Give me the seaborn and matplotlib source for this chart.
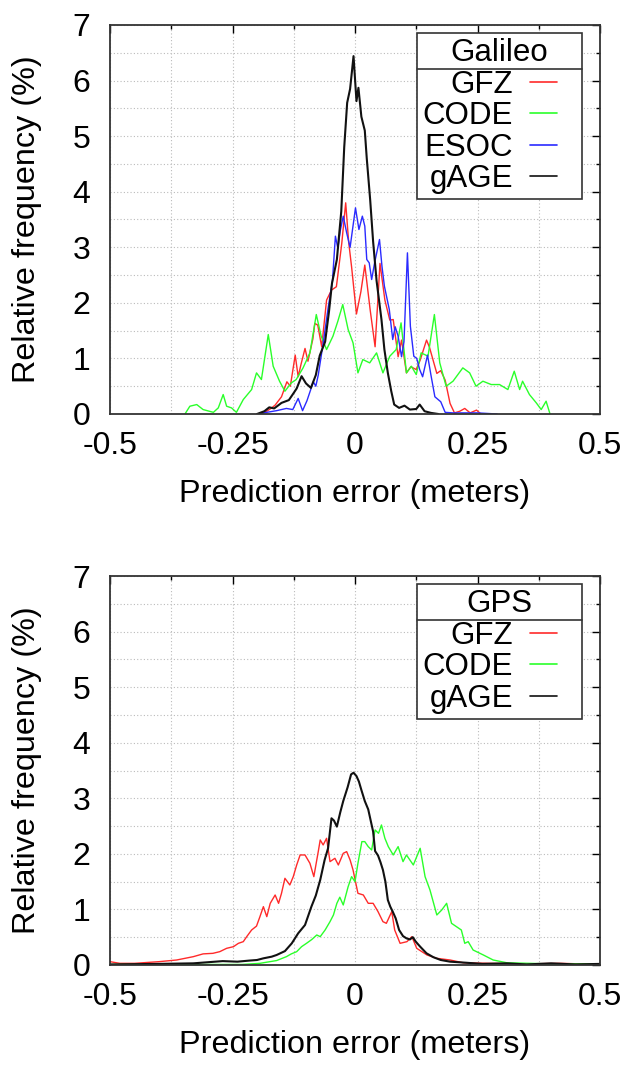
import numpy as np
import pandas as pd
import seaborn as sns
import matplotlib
matplotlib.use("Agg")
import matplotlib.pyplot as plt
from matplotlib.ticker import MultipleLocator
from matplotlib.lines import Line2D
from matplotlib.legend_handler import HandlerLine2D

# ---------------- Galileo data ----------------
gal_gfz_x = [-0.194, -0.180, -0.170, -0.163, -0.150, -0.139, -0.132, -0.122, -0.116, -0.110,
             -0.102, -0.096, -0.086, -0.082, -0.076, -0.068, -0.058, -0.048, -0.038, -0.027,
             -0.019, -0.013, -0.007, 0.003, 0.012, 0.020, 0.031, 0.041, 0.051, 0.061,
             0.071, 0.078, 0.088, 0.095, 0.105, 0.114, 0.125, 0.133, 0.146, 0.152,
             0.167, 0.175, 0.184, 0.194, 0.203, 0.214, 0.224, 0.235, 0.248, 0.257]
gal_gfz_y = [0.0, 0.05, 0.11, 0.16, 0.31, 0.58, 0.50, 1.06, 0.67, 0.90,
             1.18, 0.95, 1.35, 1.63, 1.60, 1.21, 2.05, 2.23, 2.29, 3.07,
             3.80, 3.10, 2.65, 1.80, 2.20, 2.68, 1.87, 1.21, 2.71, 2.05,
             1.69, 1.70, 1.03, 1.33, 0.74, 0.85, 0.80, 0.97, 1.33, 1.20,
             0.73, 0.78, 0.61, 0.19, 0.02, 0.05, 0.10, 0.02, 0.07, 0.0]

gal_code_x = [-0.347, -0.337, -0.323, -0.310, -0.289, -0.279, -0.269, -0.262, -0.252, -0.242,
              -0.228, -0.211, -0.201, -0.191, -0.177, -0.167, -0.154, -0.143, -0.130, -0.120,
              -0.106, -0.092, -0.079, -0.069, -0.058, -0.045, -0.035, -0.025, -0.014, -0.004,
              0.006, 0.016, 0.030, 0.044, 0.057, 0.071, 0.084, 0.094, 0.105, 0.115,
              0.125, 0.135, 0.149, 0.162, 0.173, 0.186, 0.200, 0.210, 0.220, 0.234,
              0.247, 0.261, 0.278, 0.295, 0.312, 0.325, 0.336, 0.342, 0.356, 0.370,
              0.380, 0.390, 0.398]
gal_code_y = [0.0, 0.14, 0.17, 0.08, 0.03, 0.11, 0.35, 0.14, 0.11, 0.03,
              0.26, 0.44, 0.74, 0.62, 1.43, 0.86, 0.59, 0.41, 0.56, 0.62,
              0.83, 1.10, 1.79, 1.40, 1.16, 1.40, 1.67, 1.97, 1.52, 1.28,
              0.74, 0.98, 0.92, 1.10, 0.74, 1.04, 1.16, 1.64, 0.74, 0.86,
              0.71, 1.10, 1.04, 1.79, 0.92, 0.50, 0.59, 0.71, 0.83, 0.74,
              0.50, 0.59, 0.53, 0.53, 0.44, 0.77, 0.44, 0.59, 0.35, 0.20,
              0.08, 0.23, 0.0]

gal_esoc_x = [-0.200, -0.180, -0.160, -0.140, -0.127, -0.116, -0.107, -0.098, -0.085, -0.080,
              -0.075, -0.065, -0.055, -0.046, -0.040, -0.035, -0.030, -0.024, -0.017, -0.010,
              0.001, 0.008, 0.015, 0.020, 0.024, 0.029, 0.034, 0.040, 0.050, 0.055,
              0.060, 0.070, 0.077, 0.082, 0.088, 0.095, 0.100, 0.107, 0.113, 0.120,
              0.126, 0.132, 0.138, 0.148, 0.155, 0.163, 0.175, 0.184, 0.200, 0.250, 0.290]
gal_esoc_y = [0.0, 0.03, 0.06, 0.10, 0.08, 0.28, 0.06, 0.24, 0.58, 0.50,
              0.70, 1.27, 1.90, 2.40, 3.20, 2.98, 3.30, 3.56, 3.26, 3.00,
              3.71, 3.32, 3.56, 3.38, 2.78, 2.72, 2.42, 2.72, 3.14, 2.66,
              2.30, 1.88, 1.34, 1.57, 1.40, 1.03, 1.30, 2.90, 1.58, 1.04,
              1.00, 0.80, 0.67, 1.06, 0.70, 0.31, 0.22, 0.03, 0.02, 0.02, 0.0]

gal_gage_x = [-0.200, -0.185, -0.175, -0.165, -0.150, -0.135, -0.125, -0.119, -0.109, -0.100,
              -0.090, -0.080, -0.072, -0.061, -0.053, -0.047, -0.037, -0.028, -0.022, -0.016,
              -0.010, -0.003, 0.003, 0.007, 0.013, 0.020, 0.024, 0.031, 0.037, 0.044,
              0.054, 0.060, 0.067, 0.074, 0.080, 0.090, 0.101, 0.112, 0.125, 0.132,
              0.142, 0.155, 0.170]
gal_gage_y = [0.0, 0.05, 0.12, 0.10, 0.20, 0.25, 0.38, 0.46, 0.68, 0.55,
              0.47, 0.70, 1.05, 1.30, 1.85, 2.35, 2.78, 3.65, 4.80, 5.60,
              5.85, 6.44, 5.63, 5.87, 5.35, 5.10, 4.60, 3.85, 3.10, 2.40,
              1.70, 1.16, 0.74, 0.41, 0.17, 0.11, 0.15, 0.08, 0.09, 0.17,
              0.05, 0.02, 0.0]

# ---------------- GPS data ----------------
gps_gfz_x = [-0.500, -0.480, -0.450, -0.400, -0.364, -0.330, -0.310, -0.290, -0.276, -0.262,
             -0.248, -0.238, -0.228, -0.221, -0.211, -0.201, -0.194, -0.187, -0.180, -0.173,
             -0.163, -0.156, -0.150, -0.143, -0.133, -0.126, -0.119, -0.112, -0.102, -0.092,
             -0.084, -0.075, -0.071, -0.065, -0.058, -0.051, -0.041, -0.034, -0.024, -0.017,
             -0.010, -0.004, 0.006, 0.017, 0.027, 0.037, 0.047, 0.057, 0.064, 0.075,
             0.081, 0.092, 0.106, 0.116, 0.126, 0.147, 0.167, 0.194, 0.221, 0.276,
             0.344, 0.420, 0.500]
gps_gfz_y = [0.06, 0.03, 0.03, 0.06, 0.09, 0.15, 0.20, 0.21, 0.24, 0.30,
             0.33, 0.39, 0.42, 0.51, 0.63, 0.70, 0.87, 1.05, 0.87, 1.11,
             1.26, 1.11, 1.29, 1.56, 1.44, 1.59, 1.80, 1.98, 1.98, 1.83,
             1.59, 2.04, 2.25, 2.16, 2.28, 1.86, 1.92, 1.80, 2.01, 2.04,
             1.89, 1.71, 1.29, 1.26, 1.11, 1.11, 0.96, 0.78, 0.75, 0.96,
             0.63, 0.39, 0.42, 0.51, 0.30, 0.18, 0.12, 0.09, 0.04, 0.03,
             0.02, 0.03, 0.01]

gps_code_x = [-0.500, -0.400, -0.300, -0.230, -0.194, -0.160, -0.140, -0.130, -0.119, -0.109,
              -0.099, -0.088, -0.078, -0.071, -0.061, -0.051, -0.044, -0.037, -0.031, -0.024,
              -0.014, -0.007, 0.000, 0.006, 0.014, 0.020, 0.027, 0.034, 0.041, 0.048,
              0.054, 0.061, 0.068, 0.078, 0.088, 0.098, 0.105, 0.119, 0.133, 0.143,
              0.153, 0.167, 0.177, 0.187, 0.197, 0.207, 0.217, 0.224, 0.231, 0.241,
              0.262, 0.282, 0.310, 0.400, 0.500]
gps_code_y = [0.01, 0.01, 0.01, 0.01, 0.03, 0.08, 0.15, 0.20, 0.24, 0.33,
              0.39, 0.46, 0.54, 0.51, 0.63, 0.78, 0.90, 1.11, 1.22, 1.08,
              1.41, 1.59, 1.50, 1.83, 2.22, 2.22, 2.13, 2.07, 2.43, 2.37,
              2.52, 2.28, 2.13, 1.98, 2.13, 1.86, 1.98, 1.80, 2.10, 1.59,
              1.35, 0.90, 0.99, 1.11, 0.75, 0.69, 0.63, 0.39, 0.42, 0.27,
              0.18, 0.09, 0.04, 0.02, 0.02]

gps_gage_x = [-0.500, -0.400, -0.330, -0.300, -0.270, -0.240, -0.215, -0.200, -0.187, -0.170,
              -0.160, -0.143, -0.129, -0.116, -0.102, -0.089, -0.080, -0.071, -0.062, -0.055,
              -0.048, -0.043, -0.037, -0.030, -0.024, -0.015, -0.008, -0.003, 0.003, 0.008,
              0.013, 0.020, 0.027, 0.032, 0.037, 0.041, 0.047, 0.052, 0.057, 0.062,
              0.067, 0.072, 0.077, 0.083, 0.090, 0.098, 0.105, 0.112, 0.118, 0.124,
              0.133, 0.146, 0.160, 0.175, 0.194, 0.228, 0.260, 0.310, 0.350, 0.400,
              0.450, 0.500]
gps_gage_y = [0.01, 0.02, 0.03, 0.05, 0.07, 0.06, 0.08, 0.09, 0.12, 0.15,
              0.18, 0.25, 0.39, 0.57, 0.72, 1.05, 1.25, 1.53, 1.89, 2.10,
              2.64, 2.60, 2.49, 2.75, 2.95, 3.20, 3.43, 3.46, 3.40, 3.30,
              3.15, 2.95, 2.80, 2.60, 2.40, 2.05, 1.97, 1.85, 1.71, 1.50,
              1.17, 1.05, 0.96, 0.84, 0.63, 0.52, 0.48, 0.46, 0.50, 0.42,
              0.33, 0.21, 0.14, 0.09, 0.06, 0.04, 0.02, 0.03, 0.01, 0.03,
              0.01, 0.02]

panels = [
    ("Galileo", [("GFZ", gal_gfz_x, gal_gfz_y), ("CODE", gal_code_x, gal_code_y),
                 ("ESOC", gal_esoc_x, gal_esoc_y), ("gAGE", gal_gage_x, gal_gage_y)]),
    ("GPS", [("GFZ", gps_gfz_x, gps_gfz_y), ("CODE", gps_code_x, gps_code_y),
             ("gAGE", gps_gage_x, gps_gage_y)]),
]
colors = {"GFZ": "#ff2a2a", "CODE": "#2aff2a", "ESOC": "#2a2aff", "gAGE": "#111111"}
widths = {"GFZ": 1.0, "CODE": 1.0, "ESOC": 1.0, "gAGE": 1.5}

xticks = [-0.5, -0.25, 0, 0.25, 0.5]
xticklabels = ["-0.5", "-0.25", "0", "0.25", "0.5"]
yticks = [0, 1, 2, 3, 4, 5, 6, 7]


class ShortLine(HandlerLine2D):
    """Legend line sample that leaves empty space on its right (gnuplot look)."""
    def get_xdata(self, legend, xdescent, ydescent, width, height, fontsize):
        x0 = -xdescent
        x1 = -xdescent + width * 0.57
        return np.array([x0, x1]), np.array([(x0 + x1) / 2])


sns.set_theme(style="white")
plt.rcParams["font.family"] = ["Liberation Sans", "DejaVu Sans"]
plt.rcParams["text.color"] = "black"
plt.rcParams["axes.labelcolor"] = "black"
plt.rcParams["xtick.color"] = "black"
plt.rcParams["ytick.color"] = "black"

fig = plt.figure(figsize=(6.33, 10.65), dpi=100)
W, H = 633, 1065
axes_px = [(110, 25, 600, 414), (110, 576, 600, 965)]

TICK_FS = 23
LAB_FS = 23.3
LEG_FS = 22.5
legends = []
for (title, series), (l, t, r, b) in zip(panels, axes_px):
    ax = fig.add_axes([l / W, 1 - b / H, (r - l) / W, (b - t) / H])
    frames = []
    for name, xs, ys in series:
        frames.append(pd.DataFrame({"x": xs, "y": ys, "src": name}))
    df = pd.concat(frames, ignore_index=True)
    for name, _, _ in series:
        sub = df[df["src"] == name]
        sns.lineplot(data=sub, x="x", y="y", ax=ax, color=colors[name],
                     lw=widths[name], label=name, estimator=None, sort=False)
    ax.set_xlim(-0.5, 0.5)
    ax.set_ylim(0, 7)
    ax.set_xticks(xticks)
    ax.set_xticklabels(xticklabels)
    ax.set_yticks(yticks)
    ax.xaxis.set_minor_locator(MultipleLocator(0.125))
    ax.yaxis.set_minor_locator(MultipleLocator(0.5))
    ax.grid(True, which="both", color="#bbbbbb", linestyle=(0, (1, 2)), lw=0.8)
    ax.tick_params(which="both", direction="in", top=True, right=True,
                   labelsize=TICK_FS, colors="black")
    ax.tick_params(which="major", length=6, width=1)
    ax.tick_params(which="minor", length=3, width=1)
    ax.tick_params(axis="x", which="major", pad=12)
    ax.tick_params(axis="y", which="major", pad=14)
    for s in ax.spines.values():
        s.set_color("#333333")
        s.set_linewidth(1.3)
    ax.set_xlabel("Prediction error (meters)", fontsize=LAB_FS, color="black")
    ax.xaxis.set_label_coords(0.5, -0.166)
    ax.set_ylabel("Relative frequency (%)", fontsize=LAB_FS, color="black")
    ax.yaxis.set_label_coords(-0.139, 0.5)
    leg = ax.legend(title=title, loc="upper right", bbox_to_anchor=(0.963, 0.979),
                    markerfirst=False, fontsize=LEG_FS, title_fontsize=LEG_FS,
                    frameon=True, fancybox=False, framealpha=1, edgecolor="#333333",
                    handlelength=1.5, handletextpad=0.55, labelspacing=0.05,
                    borderpad=0.16, borderaxespad=0,
                    handler_map={Line2D: ShortLine()})
    leg.get_frame().set_linewidth(1.2)
    for h in leg.get_lines():
        h.set_linewidth(1.2)
    legends.append(leg)

fig.canvas.draw()
inv = fig.transFigure.inverted()
for leg in legends:
    bb = leg.get_window_extent()
    tb = leg.get_title().get_window_extent()
    fb = leg.get_texts()[0].get_window_extent()
    ysep = (tb.y0 + fb.y1) / 2
    p0 = inv.transform((bb.x0, ysep))
    p1 = inv.transform((bb.x1, ysep))
    fig.add_artist(Line2D([p0[0], p1[0]], [p0[1], p1[1]], color="#333333", lw=1.2,
                          transform=fig.transFigure, zorder=10))

fig.savefig("out.png", dpi=100)
